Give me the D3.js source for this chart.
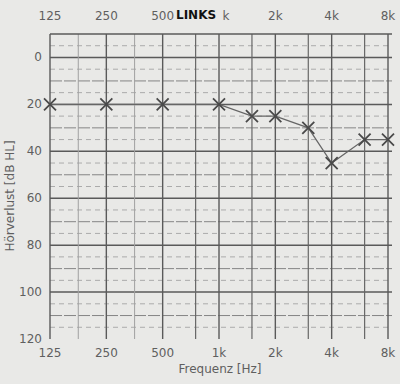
<!DOCTYPE html>
<html>
<head>
<meta charset="utf-8">
<script src="https://cdn.jsdelivr.net/npm/d3@7"></script>
<style>
  body { margin: 0; background: #e9e9e7; }
  svg { display: block; font-family: "DejaVu Sans", sans-serif; }
</style>
</head>
<body>
<svg id="chart"></svg>
<script>
/* Données de l'audiogramme (oreille gauche) */
const frequencies = [125, 250, 500, 1000, 1500, 2000, 3000, 4000, 6000, 8000]
const hearingLoss = [20, 20, 20, 20, 25, 25, 30, 45, 35, 35]

const octaveTicks = [125, 250, 500, 1000, 2000, 4000, 8000]
const octaveLabels = ['125', '250', '500', '1k', '2k', '4k', '8k']
const halfOctaveLines = [750, 1500, 3000, 6000]
const lightLines = [177, 354]
const dbTicks = [0, 20, 40, 60, 80, 100, 120]

const width = 400, height = 384
const margin = {top: 34, right: 12, bottom: 45, left: 50}

const svg = d3.select('#chart').attr('width', width).attr('height', height)

const x = d3.scaleLog().base(2)
  .domain([125, 8000])
  .range([margin.left, width - margin.right])

const y = d3.scaleLinear()
  .domain([-10, 120])
  .range([margin.top, height - margin.bottom])

const grid = svg.append('g')

/* lignes horizontales tous les 5 dB */
d3.range(-5, 120, 5).forEach(v => {
  const major = v % 20 === 0
  const mid = !major && v % 10 === 0
  grid.append('line')
    .attr('x1', x.range()[0]).attr('x2', x.range()[1] + 4)
    .attr('y1', y(v)).attr('y2', y(v))
    .attr('stroke', major ? '#5a5a5a' : (mid ? '#858585' : '#ababab'))
    .attr('stroke-width', major ? 1.5 : 1)
    .attr('stroke-dasharray', major ? null : (mid ? '12,2' : '5,4'))
})

/* lignes verticales */
grid.selectAll('.light').data(lightLines).enter().append('line')
  .attr('x1', d => x(d)).attr('x2', d => x(d))
  .attr('y1', y(-10)).attr('y2', y(120))
  .attr('stroke', '#a0a0a0').attr('stroke-width', 1)

grid.selectAll('.half').data(halfOctaveLines).enter().append('line')
  .attr('x1', d => x(d)).attr('x2', d => x(d))
  .attr('y1', y(-10)).attr('y2', y(120))
  .attr('stroke', '#666').attr('stroke-width', 1.2)

grid.selectAll('.oct').data(octaveTicks).enter().append('line')
  .attr('x1', d => x(d)).attr('x2', d => x(d))
  .attr('y1', y(-10)).attr('y2', y(120))
  .attr('stroke', '#5a5a5a').attr('stroke-width', 1.4)

/* cadre haut */
grid.append('line')
  .attr('x1', x.range()[0]).attr('x2', x.range()[1] + 4)
  .attr('y1', y(-10)).attr('y2', y(-10))
  .attr('stroke', '#5a5a5a').attr('stroke-width', 1.5)

/* étiquettes des axes */
const labelColor = '#5f5f5f'

svg.append('g').selectAll('text').data(dbTicks).enter().append('text')
  .attr('x', margin.left - 8)
  .attr('y', d => y(d) + 4)
  .attr('text-anchor', 'end')
  .attr('font-size', 12)
  .attr('fill', labelColor)
  .text(d => d)

svg.append('g').selectAll('text').data(octaveTicks).enter().append('text')
  .attr('x', d => x(d))
  .attr('y', height - margin.bottom + 18)
  .attr('text-anchor', 'middle')
  .attr('font-size', 12)
  .attr('fill', labelColor)
  .text((d, i) => octaveLabels[i])

/* en haut, le « 1 » de 1k est caché par le titre */
svg.append('g').selectAll('text').data(octaveTicks).enter().append('text')
  .attr('x', d => d === 1000 ? x(d) + 7 : x(d))
  .attr('y', 20)
  .attr('text-anchor', 'middle')
  .attr('font-size', 12)
  .attr('fill', labelColor)
  .text((d, i) => d === 1000 ? 'k' : octaveLabels[i])

svg.append('text')
  .attr('x', 220).attr('y', 373)
  .attr('text-anchor', 'middle')
  .attr('font-size', 12)
  .attr('fill', labelColor)
  .text('Frequenz [Hz]')

svg.append('text')
  .attr('transform', 'translate(14,196) rotate(-90)')
  .attr('text-anchor', 'middle')
  .attr('font-size', 12)
  .attr('fill', labelColor)
  .text('Hörverlust [dB HL]')

svg.append('text')
  .attr('x', 176).attr('y', 19)
  .attr('font-size', 12)
  .attr('font-weight', 'bold')
  .attr('fill', '#111')
  .text('LINKS')

/* courbe et marqueurs */
const points = frequencies.map((f, i) => [f, hearingLoss[i]])

svg.append('path')
  .datum(points)
  .attr('fill', 'none')
  .attr('stroke', '#666')
  .attr('stroke-width', 1.2)
  .attr('d', d3.line().x(d => x(d[0])).y(d => y(d[1])))

const s = 6
svg.append('g').selectAll('path').data(points).enter().append('path')
  .attr('d', d => {
    const cx = x(d[0]), cy = y(d[1])
    return `M${cx - s},${cy - s}L${cx + s},${cy + s}M${cx - s},${cy + s}L${cx + s},${cy - s}`
  })
  .attr('stroke', '#4a4a4a')
  .attr('stroke-width', 1.8)
  .attr('fill', 'none')
</script>
</body>
</html>
